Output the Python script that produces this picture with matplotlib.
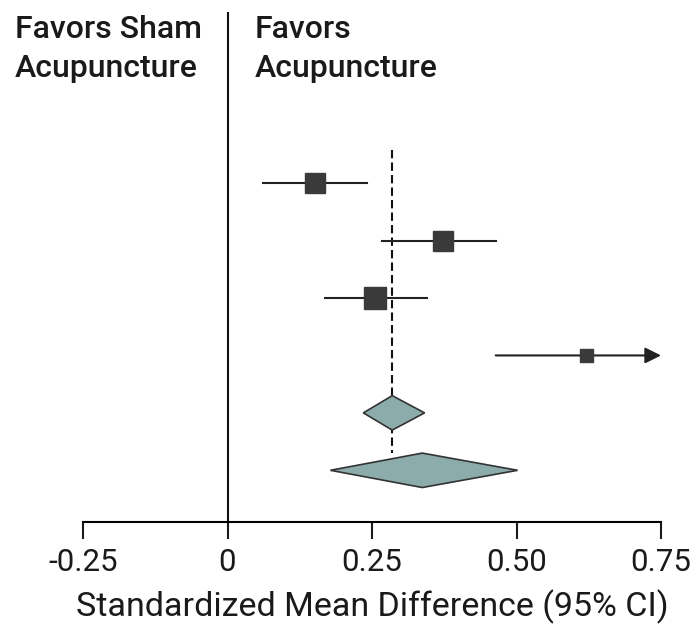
import matplotlib
matplotlib.use("Agg")
import matplotlib.pyplot as plt
from matplotlib.patches import Polygon

plt.rcParams['font.family'] = ['Roboto', 'DejaVu Sans']

# study-level estimates (standardized mean difference with 95% CI)
study_est = [0.151, 0.372, 0.256, 0.621]
study_lo = [0.061, 0.268, 0.168, 0.464]
study_hi = [0.242, 0.465, 0.346, 0.75]
study_size = [20, 20, 23, 13]          # marker size in px (weight)
study_arrow = [False, False, False, True]

# pooled estimates (diamonds)
pooled_est = [0.285, 0.337]
pooled_lo = [0.235, 0.178]
pooled_hi = [0.341, 0.502]

overall = 0.285
xticks = [-0.25, 0, 0.25, 0.50, 0.75]
xticklabels = ['-0.25', '0', '0.25', '0.50', '0.75']

fig = plt.figure(figsize=(6.98, 6.29), dpi=100)
ax = fig.add_axes([83 / 698, 107 / 629, 578 / 698, 510 / 629])
ax.set_xlim(-0.25, 0.75)
ax.set_ylim(5.9, -2.98)

dark = '#3a3a3a'
# studies
for i, (e, lo, hi, s, arr) in enumerate(zip(study_est, study_lo, study_hi, study_size, study_arrow)):
    if arr:
        ax.annotate('', xy=(hi, i), xytext=(lo, i),
                    arrowprops=dict(arrowstyle='-|>', color='#222222', lw=1.5,
                                    mutation_scale=24, shrinkA=0, shrinkB=0))
    else:
        ax.plot([lo, hi], [i, i], color='#222222', lw=1.5, zorder=2)
    ax.plot(e, i, marker='s', ms=s * 0.72, color=dark, mec=dark, zorder=3)

# pooled diamonds
n = len(study_est)
for j, (e, lo, hi) in enumerate(zip(pooled_est, pooled_lo, pooled_hi)):
    y = n + j
    h = 0.3
    diamond = Polygon([[lo, y], [e, y - h], [hi, y], [e, y + h]], closed=True,
                      facecolor='#8cabab', edgecolor='#333333', lw=1.2, zorder=3)
    ax.add_patch(diamond)

# dashed overall line
ax.plot([overall, overall], [-0.58, n + 1 - 0.3], color='#111111', lw=1.5,
        ls=(0, (4, 2)), zorder=1)

# zero line
ax.axvline(0, color='#111111', lw=1.5, zorder=1)

for side in ['top', 'right', 'left']:
    ax.spines[side].set_visible(False)
ax.spines['bottom'].set_linewidth(1.5)
ax.set_yticks([])
ax.set_xticks(xticks)
ax.set_xticklabels(xticklabels)
ax.tick_params(axis='x', direction='out', length=12, width=1.5, labelsize=22.5,
               pad=7, colors='#1a1a1a')
ax.set_xlabel('Standardized Mean Difference (95% CI)', fontsize=24.5, color='#1a1a1a',
              labelpad=9)

fig.text(15 / 698, 1 - 15 / 629, 'Favors Sham\nAcupuncture', fontsize=23,
         fontweight='medium', color='#1a1a1a', va='top', ha='left', linespacing=1.45)
fig.text(255 / 698, 1 - 15 / 629, 'Favors\nAcupuncture', fontsize=23,
         fontweight='medium', color='#1a1a1a', va='top', ha='left', linespacing=1.45)

fig.savefig('out.png', dpi=100)
